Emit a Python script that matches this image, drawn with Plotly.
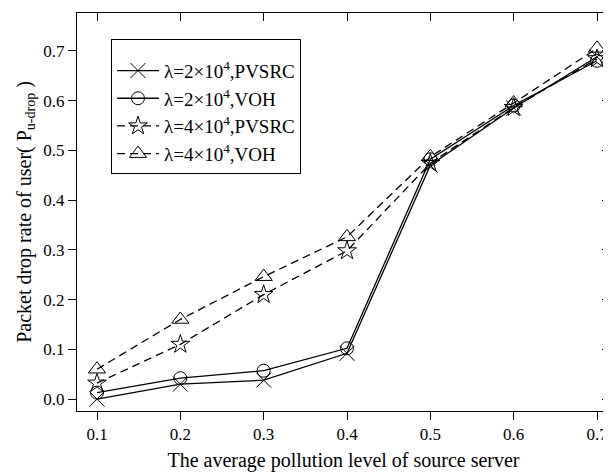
import plotly.graph_objects as go

x_vals = [0.1, 0.2, 0.3, 0.4, 0.5, 0.6, 0.7]
pvsrc_2e4 = [0.0, 0.030, 0.038, 0.092, 0.470, 0.585, 0.688]
voh_2e4 = [0.013, 0.042, 0.057, 0.102, 0.482, 0.590, 0.680]
pvsrc_4e4 = [0.032, 0.110, 0.210, 0.298, 0.474, 0.586, 0.684]
voh_4e4 = [0.060, 0.160, 0.246, 0.326, 0.487, 0.595, 0.705]

names = ["λ=2×10<sup>4</sup>,PVSRC", "λ=2×10<sup>4</sup>,VOH",
         "λ=4×10<sup>4</sup>,PVSRC", "λ=4×10<sup>4</sup>,VOH"]
series = [pvsrc_2e4, voh_2e4, pvsrc_4e4, voh_4e4]
symbols = ["x-thin-open", "circle-open", "star-open", "triangle-up-open"]
dashes = ["solid", "solid", "8px,5px", "8px,5px"]
sizes = [15, 13, 14, 15]

FONT = "Liberation Serif"

fig = go.Figure()
for name, ys, sym, dash, sz in zip(names, series, symbols, dashes, sizes):
    fig.add_trace(go.Scatter(
        x=x_vals, y=ys, name=name, mode="lines+markers",
        line=dict(color="black", width=1.3, dash=dash),
        marker=dict(symbol=sym, size=sz, color="black",
                    line=dict(color="black", width=1)),
    ))

xr = [0.076, 0.7156]
yr = [-0.024, 0.776]
# invisible trace to hold mirrored axes
fig.add_trace(go.Scatter(x=[None], y=[None], xaxis="x2", yaxis="y2",
                         showlegend=False, hoverinfo="skip"))

axis_common = dict(showline=True, linecolor="black", linewidth=1,
                   showgrid=False, zeroline=False, tickcolor="black",
                   ticklen=8, tickwidth=1)

fig.update_layout(
    width=603, height=467,
    margin=dict(l=69, r=1, t=5, b=64),
    paper_bgcolor="white", plot_bgcolor="white",
    font=dict(family=FONT, size=17, color="black"),
    xaxis=dict(range=xr, tickmode="array", tickvals=x_vals,
               ticktext=[f"{v:.1f}" for v in x_vals], ticks="outside",
               title=dict(text="The average pollution level of source server",
                          font=dict(size=20), standoff=9),
               **axis_common),
    yaxis=dict(range=yr, tick0=0, dtick=0.1, tickformat=".1f", ticks="outside",
               title=dict(text="Packet drop rate of user( P<sub>u-drop</sub> )",
                          font=dict(size=20), standoff=6),
               **axis_common),
    xaxis2=dict(range=xr, overlaying="x", side="top", tickmode="array",
                tickvals=x_vals, ticks="inside", showticklabels=False,
                anchor="y", **axis_common),
    yaxis2=dict(range=yr, overlaying="y", side="right", tick0=0, dtick=0.1,
                ticks="inside", showticklabels=False, anchor="x",
                **axis_common),
    legend=dict(x=0.0638, y=0.9347, xanchor="left", yanchor="top",
                bordercolor="black", borderwidth=1, bgcolor="white",
                itemwidth=42, font=dict(family=FONT, size=19),
                title=dict(text="\u00a0", font=dict(size=9))),
    showlegend=True,
)

fig.write_html("out.html")
